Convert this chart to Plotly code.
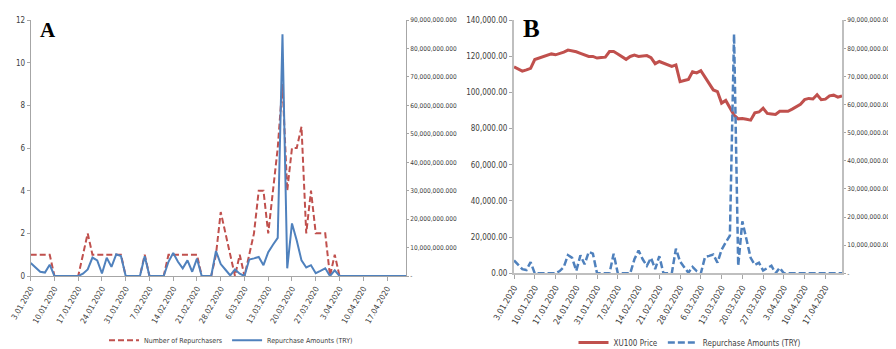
import plotly.graph_objects as go
import pandas as pd

# ---------------- data ----------------
dates = [f"{d.day}.{d.month:02d}.{d.year}" for d in pd.bdate_range("2020-01-03", periods=80)]

number_of_repurchasers = [
    1, 1, 1, 1, 1, 0, 0, 0, 0, 0,
    0, 1, 2, 1, 1, 1, 1, 1, 1, 1,
    0, 0, 0, 0, 1, 0, 0, 0, 0, 1,
    1, 1, 1, 1, 1, 1, 0, 0, 0, 1,
    3, 2, 1, 0, 1, 0, 1, 2, 4, 4,
    2, 4, 6, 9, 4, 6, 6, 7, 2, 4,
    2, 2, 2, 0, 1, 0, 0, 0, 0, 0,
    0, 0, 0, 0, 0, 0, 0, 0, 0, 0,
]

# repurchase amounts, millions of TRY
repurchase_amounts_mn = [
    4.6, 3.0, 1.5, 1.2, 4.0, 0, 0, 0, 0, 0,
    0, 0.8, 2.3, 6.5, 5.5, 0.9, 6.4, 3.2, 7.6, 7.0,
    0, 0, 0, 0, 7.0, 0, 0, 0, 0, 5.0,
    8.1, 5.0, 2.7, 5.5, 1.5, 6.1, 0, 0, 0, 8.8,
    4.2, 2.2, 0.2, 2.3, 0.8, 0, 5.8, 6.2, 6.7, 3.8,
    8.4, 11.0, 13.4, 85.0, 2.7, 18.5, 12.5, 5.5, 3.0, 3.8,
    1.0, 1.8, 2.7, 0, 2.0, 0, 0, 0, 0, 0,
    0, 0, 0, 0, 0, 0, 0, 0, 0, 0,
]

# XU100 index, thousands
xu100_k = [
    114.1, 113.0, 111.8, 112.5, 113.3, 118.2, 119.0, 119.8, 120.4, 121.3,
    120.8, 121.5, 122.3, 123.4, 123.0, 122.5, 121.6, 120.8, 119.9, 119.9,
    119.0, 119.3, 119.5, 122.6, 122.6, 121.3, 119.8, 118.3, 119.9, 120.6,
    119.9, 120.3, 120.4, 119.2, 115.9, 117.1, 116.3, 115.4, 114.4, 115.2,
    106.0, 106.6, 107.2, 111.4, 110.8, 112.0, 108.4, 105.0, 101.4, 100.5,
    94.1, 95.6, 91.6, 87.5, 85.4, 85.6, 85.2, 84.7, 88.7, 89.2,
    91.3, 88.4, 88.1, 87.8, 89.6, 89.4, 89.6, 90.8, 92.0, 93.5,
    96.0, 96.7, 96.4, 98.7, 96.0, 96.3, 98.1, 98.5, 97.4, 98.1,
]

x_tick_labels = dates[::5]
left_ticks_a = [0, 2, 4, 6, 8, 10, 12]
left_ticks_b = [0, 20000, 40000, 60000, 80000, 100000, 120000, 140000]
right_ticks = [0, 10e6, 20e6, 30e6, 40e6, 50e6, 60e6, 70e6, 80e6, 90e6]

amounts = [v * 1e6 for v in repurchase_amounts_mn]
xu100 = [v * 1000 for v in xu100_k]

right_text = ["-" if v == 0 else f"{v:,.3f}" for v in right_ticks]
left_text_b = [f"{v:,.2f}" for v in left_ticks_b]

# ---------------- style ----------------
W, H = 896, 349
RED = "#C0504D"
BLUE = "#4F81BD"
AXIS = "#a6a6a6"
TXT = "#404040"
FONT = "Liberation Sans Narrow, Arial Narrow, DejaVu Sans Condensed, Liberation Sans, sans-serif"


def fx(p):
    return p / W


def fy(p):
    return 1 - p / H


fig = go.Figure()
fig.add_trace(go.Scatter(x=dates, y=number_of_repurchasers, name="Number of Repurchasers",
                         mode="lines", line=dict(color=RED, width=2, dash="6px,3px"),
                         xaxis="x", yaxis="y", legend="legend"))
fig.add_trace(go.Scatter(x=dates, y=amounts, name="Repurchase Amounts (TRY)",
                         mode="lines", line=dict(color=BLUE, width=2),
                         xaxis="x", yaxis="y2", legend="legend"))
fig.add_trace(go.Scatter(x=dates, y=xu100, name="XU100 Price",
                         mode="lines", line=dict(color=RED, width=3),
                         xaxis="x2", yaxis="y3", legend="legend2"))
fig.add_trace(go.Scatter(x=dates, y=amounts, name="Repurchase Amounts (TRY)",
                         mode="lines", line=dict(color=BLUE, width=2.5, dash="7px,3px"),
                         xaxis="x2", yaxis="y4", legend="legend2"))

common_x = dict(type="category", range=[0, 79], tickmode="array", tickvals=x_tick_labels,
                ticktext=x_tick_labels, tickangle=-60, ticks="outside", ticklen=4,
                tickcolor=AXIS, showline=True, linecolor=AXIS, showgrid=False,
                zeroline=False, automargin=False, tickfont=dict(size=8, color=TXT, family=FONT))
common_y = dict(showline=True, linecolor=AXIS, ticks="outside", ticklen=3, tickcolor=AXIS,
                showgrid=False, zeroline=False, automargin=False,
                tickfont=dict(size=8, color=TXT, family=FONT))

fig.update_layout(
    width=W, height=H,
    margin=dict(l=0, r=0, t=0, b=0),
    paper_bgcolor="white", plot_bgcolor="white",
    font=dict(family=FONT, color=TXT),
    xaxis=dict(common_x, domain=[fx(22.7), fx(398)], anchor="y"),
    yaxis=dict(common_y, domain=[fy(272.7), fy(12.3)], anchor="x", range=[0, 12],
               tickvals=left_ticks_a),
    yaxis2=dict(common_y, overlaying="y", side="right", anchor="x", range=[0, 90e6],
                tickvals=right_ticks, ticktext=right_text, ticklen=2,
                tickfont=dict(size=6.5, color=TXT, family=FONT)),
    xaxis2=dict(common_x, domain=[fx(506), fx(834)], anchor="y3", linewidth=2,
                linecolor="#bfbfbf", tickfont=dict(size=8.5, color=TXT, family=FONT)),
    yaxis3=dict(common_y, domain=[fy(270), fy(12.3)], anchor="x2", range=[0, 140000],
                tickvals=left_ticks_b, ticktext=left_text_b, linewidth=2,
                linecolor="#bfbfbf", tickfont=dict(size=8, color=TXT, family=FONT)),
    yaxis4=dict(common_y, overlaying="y3", side="right", anchor="x2", range=[0, 90e6],
                tickvals=right_ticks, ticktext=right_text, linewidth=2, linecolor="#bfbfbf",
                ticklen=2, tickfont=dict(size=6.5, color=TXT, family=FONT)),
    legend=dict(orientation="h", x=fx(223), xanchor="center", y=fy(338), yanchor="middle",
                font=dict(size=7, color=TXT, family=FONT), bgcolor="rgba(0,0,0,0)",
                itemwidth=30, tracegroupgap=0),
    legend2=dict(orientation="h", x=fx(682), xanchor="center", y=fy(340.7), yanchor="middle",
                 font=dict(size=8, color=TXT, family=FONT), bgcolor="rgba(0,0,0,0)",
                 itemwidth=30, tracegroupgap=0),
    annotations=[
        dict(text="<b>A</b>", x=fx(39.5), y=fy(22), xref="paper", yref="paper",
             xanchor="center", yanchor="middle", showarrow=False,
             font=dict(family="Liberation Serif, serif", size=21, color="black")),
        dict(text="<b>B</b>", x=fx(523.7), y=fy(20.5), xref="paper", yref="paper",
             xanchor="center", yanchor="middle", showarrow=False,
             font=dict(family="Liberation Serif, serif", size=25, color="black")),
    ],
)

fig.write_html("out.html")
